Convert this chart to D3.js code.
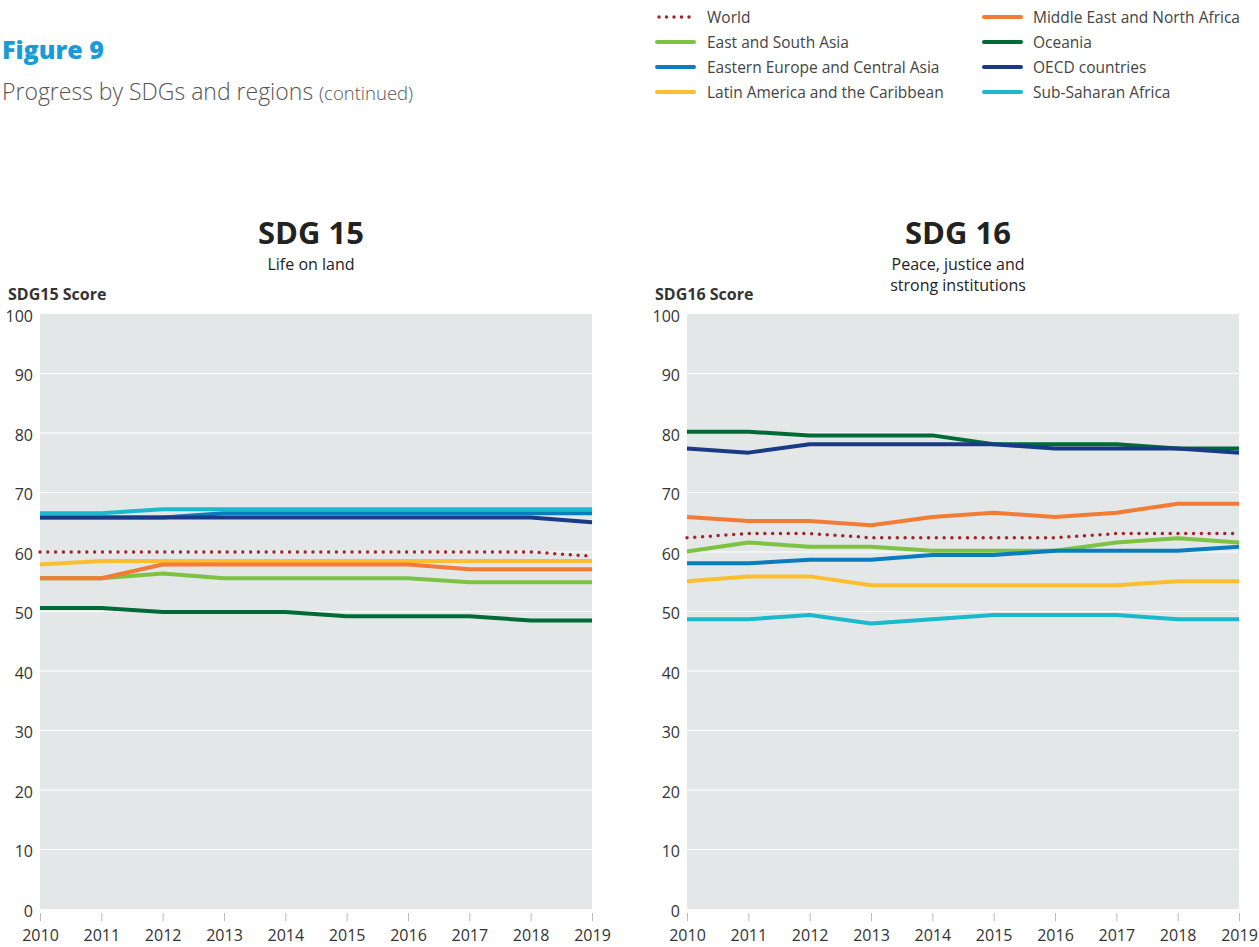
<!DOCTYPE html>
<html>
<head>
<meta charset="utf-8">
<script src="https://cdn.jsdelivr.net/npm/d3@7"></script>
<style>
  body { margin: 0; background: #fff; }
  svg { display: block; font-family: "Open Sans", "Noto Sans", sans-serif; }
</style>
</head>
<body>
<div id="chart"></div>
<script>
// years on the x axis
var years = [2010, 2011, 2012, 2013, 2014, 2015, 2016, 2017, 2018, 2019];
var yTicks = [0, 10, 20, 30, 40, 50, 60, 70, 80, 90, 100];

var regions = ["World", "East and South Asia", "Eastern Europe and Central Asia",
  "Latin America and the Caribbean", "Middle East and North Africa", "Oceania",
  "OECD countries", "Sub-Saharan Africa"];
var colors = ["#a1252b", "#7dc242", "#0b7dbf", "#fdbe2d", "#f47b35", "#006b37", "#193a86", "#1bb9cb"];

// SDG 15 scores
var sdg15World = [60.0, 60.0, 60.0, 60.0, 60.0, 60.0, 60.0, 60.0, 60.0, 59.3];
var sdg15ESA   = [55.6, 55.6, 56.4, 55.6, 55.6, 55.6, 55.6, 54.9, 54.9, 54.9];
var sdg15EECA  = [65.8, 65.8, 65.8, 66.5, 66.5, 66.5, 66.5, 66.5, 66.5, 66.5];
var sdg15LAC   = [57.9, 58.5, 58.5, 58.5, 58.5, 58.5, 58.5, 58.5, 58.5, 58.5];
var sdg15MENA  = [55.6, 55.6, 57.9, 57.9, 57.9, 57.9, 57.9, 57.1, 57.1, 57.1];
var sdg15Oce   = [50.6, 50.6, 49.9, 49.9, 49.9, 49.2, 49.2, 49.2, 48.5, 48.5];
var sdg15OECD  = [65.8, 65.8, 65.8, 65.8, 65.8, 65.8, 65.8, 65.8, 65.8, 65.0];
var sdg15SSA   = [66.5, 66.5, 67.2, 67.2, 67.2, 67.2, 67.2, 67.2, 67.2, 67.2];

// SDG 16 scores
var sdg16World = [62.4, 63.1, 63.1, 62.4, 62.4, 62.4, 62.4, 63.1, 63.1, 63.1];
var sdg16ESA   = [60.1, 61.6, 60.9, 60.9, 60.2, 60.2, 60.2, 61.6, 62.3, 61.6];
var sdg16EECA  = [58.1, 58.1, 58.7, 58.7, 59.5, 59.5, 60.2, 60.2, 60.2, 60.9];
var sdg16LAC   = [55.1, 55.9, 55.9, 54.4, 54.4, 54.4, 54.4, 54.4, 55.1, 55.1];
var sdg16MENA  = [65.9, 65.2, 65.2, 64.5, 65.9, 66.6, 65.9, 66.6, 68.1, 68.1];
var sdg16Oce   = [80.2, 80.2, 79.6, 79.6, 79.6, 78.1, 78.1, 78.1, 77.4, 77.4];
var sdg16OECD  = [77.4, 76.7, 78.1, 78.1, 78.1, 78.1, 77.4, 77.4, 77.4, 76.7];
var sdg16SSA   = [48.7, 48.7, 49.4, 48.0, 48.7, 49.4, 49.4, 49.4, 48.7, 48.7];

var sdg15 = [sdg15World, sdg15ESA, sdg15EECA, sdg15LAC, sdg15MENA, sdg15Oce, sdg15OECD, sdg15SSA];
var sdg16 = [sdg16World, sdg16ESA, sdg16EECA, sdg16LAC, sdg16MENA, sdg16Oce, sdg16OECD, sdg16SSA];

var svg = d3.select("#chart").append("svg")
  .attr("width", 1259).attr("height", 947);

// header
svg.append("text").attr("x", 2).attr("y", 59)
  .attr("font-size", 25).attr("font-weight", 800).attr("fill", "#1a9ad7")
  .text("Figure 9");
var sub = svg.append("text").attr("x", 2).attr("y", 100)
  .attr("font-size", 23).attr("font-weight", 300).attr("fill", "#555");
sub.append("tspan").text("Progress by SDGs and regions ");
sub.append("tspan").attr("font-size", 18.5).text("(continued)");

// legend
var legend = svg.append("g");
regions.forEach(function(name, i) {
  var col = i < 4 ? 0 : 1;
  var row = i % 4;
  var gx = col === 0 ? 657 : 984;
  var gy = 17 + row * 25;
  var ln = legend.append("line")
    .attr("x1", gx).attr("x2", gx + 37).attr("y1", gy).attr("y2", gy)
    .attr("stroke", colors[i]);
  if (i === 0) {
    ln.attr("stroke-width", 3.5).attr("stroke-linecap", "round").attr("stroke-dasharray", "0 7.5")
      .attr("x1", gx + 2);
  } else {
    ln.attr("stroke-width", 4).attr("stroke-linecap", "round");
  }
  legend.append("text").attr("x", col === 0 ? 707 : 1033).attr("y", gy + 5.5)
    .attr("font-size", 15.5).attr("fill", "#444").text(name);
});

function panel(opts) {
  var x = d3.scaleLinear().domain([2010, 2019]).range([opts.left, opts.right]);
  var y = d3.scaleLinear().domain([0, 100]).range([909, 314]);
  var g = svg.append("g");

  g.append("text").attr("x", opts.cx).attr("y", 244).attr("text-anchor", "middle")
    .attr("font-size", 31).attr("font-weight", 700).attr("fill", "#222").text(opts.title);
  opts.sub.forEach(function(s, i) {
    g.append("text").attr("x", opts.cx).attr("y", 270 + i * 21).attr("text-anchor", "middle")
      .attr("font-size", 16).attr("fill", "#222").text(s);
  });
  g.append("text").attr("x", opts.labelX).attr("y", 300)
    .attr("font-size", 16).attr("font-weight", 700).attr("fill", "#333").text(opts.axisTitle);

  g.append("rect").attr("x", opts.left).attr("y", y(100))
    .attr("width", opts.right - opts.left).attr("height", y(0) - y(100))
    .attr("fill", "#e3e7e8");

  g.selectAll(".grid").data(yTicks.slice(1, 10)).enter().append("line")
    .attr("x1", opts.left).attr("x2", opts.right)
    .attr("y1", function(d) { return y(d); }).attr("y2", function(d) { return y(d); })
    .attr("stroke", "#fff").attr("stroke-width", 1.2);

  var yAxis = g.append("g").attr("transform", "translate(" + (opts.left - 7) + ",0)")
    .call(d3.axisLeft(y).tickValues(yTicks).tickSize(0).tickPadding(0));
  yAxis.select(".domain").remove();
  yAxis.selectAll("text").attr("font-size", 16).attr("fill", "#333").attr("dy", "0.45em")
    .attr("font-family", "Open Sans, sans-serif");

  var xAxis = g.append("g").attr("transform", "translate(0,913)")
    .call(d3.axisBottom(x).tickValues(years).tickFormat(d3.format("d")).tickSize(8).tickPadding(9));
  xAxis.select(".domain").remove();
  xAxis.selectAll(".tick line").attr("stroke", "#bbb");
  xAxis.selectAll("text").attr("font-size", 16).attr("fill", "#333")
    .attr("font-family", "Open Sans, sans-serif");

  var line = d3.line().x(function(d, i) { return x(years[i]); }).y(function(d) { return y(d); });
  var order = [1, 2, 3, 4, 5, 6, 7, 0];
  order.forEach(function(k) {
    var p = g.append("path").attr("d", line(opts.data[k]))
      .attr("fill", "none").attr("stroke", colors[k]).attr("stroke-linejoin", "round");
    if (k === 0) {
      p.attr("stroke-width", 3.5).attr("stroke-linecap", "round").attr("stroke-dasharray", "0 7.8");
    } else {
      p.attr("stroke-width", 4);
    }
  });
}

panel({ left: 40, right: 592, cx: 311, title: "SDG 15", sub: ["Life on land"],
  labelX: 8, axisTitle: "SDG15 Score", data: sdg15 });
panel({ left: 687, right: 1239, cx: 958, title: "SDG 16", sub: ["Peace, justice and", "strong institutions"],
  labelX: 655, axisTitle: "SDG16 Score", data: sdg16 });
</script>
</body>
</html>
